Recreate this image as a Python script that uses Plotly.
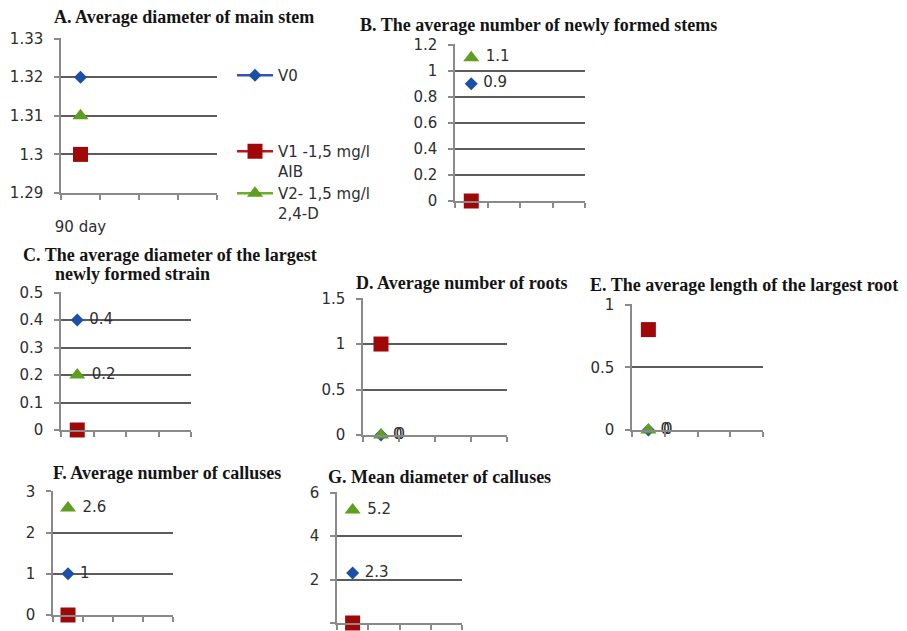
import plotly.graph_objects as go

W, H = 907, 631

series_names = ["V0", "V1 -1,5 mg/l<br>AIB", "V2- 1,5 mg/l<br>2,4-D"]
series_colors = ["#1c4fa8", "#a00808", "#5f9e1e"]
line_colors = ["#2f55b5", "#c0141e", "#6aae2a"]
symbols = ["diamond", "square", "triangle-up"]
marker_sizes = [10, 15, 14]
labeled = [True, False, True]

day_label = "90 day"

# values per panel: [V0, V1, V2]
vals_A = [1.32, 1.30, 1.31]
vals_B = [0.9, 0.0, 1.1]
vals_C = [0.4, 0.0, 0.2]
vals_D = [0.0, 1.0, 0.0]
vals_E = [0.0, 0.8, 0.0]
vals_F = [1.0, 0.0, 2.6]
vals_G = [2.3, 0.0, 5.2]

titles = [
    "A. Average diameter of main stem",
    "B. The average number of newly formed stems",
    "C. The average diameter of the largest",
    "D. Average number of roots",
    "E. The average length of the largest root",
    "F. Average number of calluses",
    "G. Mean diameter of calluses",
]
title_C2 = "newly formed strain"

# panel geometry in pixels: (left, right, top, bottom), y range, dtick, show labels
panels = [
    dict(v=vals_A, box=(61, 217, 38, 193), yr=(1.29, 1.33), dt=0.01, lab=False, title=(184, 17)),
    dict(v=vals_B, box=(455, 585, 44, 201), yr=(0, 1.2), dt=0.2, lab=True, title=(538, 25)),
    dict(v=vals_C, box=(61, 191, 292, 430), yr=(0, 0.5), dt=0.1, lab=True, title=(170, 255)),
    dict(v=vals_D, box=(363, 507, 298, 435), yr=(0, 1.5), dt=0.5, lab=True, title=(461, 283)),
    dict(v=vals_E, box=(632, 763, 304, 430), yr=(0, 1), dt=0.5, lab=True, title=(744, 285)),
    dict(v=vals_F, box=(53, 173, 491, 615), yr=(0, 3), dt=1, lab=True, title=(167, 473)),
    dict(v=vals_G, box=(337, 462, 492, 623), yr=(0, 6), dt=2, lab=True, title=(439, 477)),
]

fig = go.Figure()
SANS = "DejaVu Sans, Verdana, sans-serif"
TICKFONT = dict(family=SANS, size=15, color="#2e2e2e")
GRID = "#5c5c5c"
AXL = "#8a8a8a"
TITLEFONT = dict(family="Liberation Serif, Times New Roman, serif", size=18, color="#141414")

annotations = []
for i, p in enumerate(panels):
    n = "" if i == 0 else str(i + 1)
    xa, ya = "x" + n, "y" + n
    l, r, t, b = p["box"]
    for s in range(3):
        txt = None
        if p["lab"] and labeled[s]:
            txt = ["\u00a0" + ("%g" % p["v"][s])]
        fig.add_trace(go.Scatter(
            x=[1], y=[p["v"][s]], xaxis=xa, yaxis=ya,
            mode=("lines+markers" if i == 0 else ("markers+text" if txt else "markers")),
            text=txt, textposition="middle right",
            textfont=dict(family=SANS, size=15, color="#2e2e2e"),
            marker=dict(symbol=symbols[s], size=marker_sizes[s], color=series_colors[s]),
            line=dict(color=line_colors[s], width=2.5),
            name=series_names[s], showlegend=(i == 0), cliponaxis=False,
            legend=("legend" if s == 0 else "legend2"),
            hoverinfo="skip",
        ))
    xkey = "xaxis" + n
    ykey = "yaxis" + n
    lo, hi = p["yr"]
    eps = (hi - lo) * 0.004
    fig.layout[xkey] = dict(
        domain=[l / W, r / W], anchor=ya, range=[0.5, 4.5],
        tickvals=[1], ticktext=[day_label if i == 0 else ""],
        showticklabels=(i == 0), ticks="", showgrid=False, zeroline=False,
        showline=True, linecolor=AXL, linewidth=1.5, automargin=False,
        minor=dict(tickvals=[0.5, 1.5, 2.5, 3.5, 4.5], ticks="outside", ticklen=5,
                   tickcolor=AXL, tickwidth=1.5, showgrid=False),
        tickfont=TICKFONT, ticklabelstandoff=19,
    )
    fig.layout[ykey] = dict(
        domain=[1 - b / H, 1 - t / H], anchor=xa, range=[lo, hi + eps], dtick=p["dt"],
        tick0=lo, showgrid=True, gridcolor=GRID, gridwidth=1.5, zeroline=False,
        showline=True, linecolor=AXL, linewidth=1.5, ticks="outside", ticklen=5,
        tickcolor=AXL, tickwidth=1.5, tickfont=TICKFONT, automargin=False,
        ticklabelstandoff=8,
    )
    cx, cy = p["title"]
    annotations.append(dict(text="<b>" + titles[i] + "</b>", x=cx / W, y=1 - cy / H,
                            xref="paper", yref="paper", showarrow=False,
                            xanchor="center", yanchor="middle", font=TITLEFONT))

annotations.append(dict(text="<b>" + title_C2 + "</b>", x=132 / W, y=1 - 274 / H,
                        xref="paper", yref="paper", showarrow=False,
                        xanchor="center", yanchor="middle", font=TITLEFONT))

LEGFONT = dict(family=SANS, size=15, color="#2e2e2e")
fig.update_layout(
    width=W, height=H, margin=dict(l=0, r=0, t=0, b=0, autoexpand=False),
    paper_bgcolor="white", plot_bgcolor="white",
    annotations=annotations,
    legend=dict(x=232 / W, y=1 - 59 / H, xanchor="left", yanchor="top",
                font=LEGFONT, bgcolor="rgba(0,0,0,0)", valign="top", itemwidth=36),
    legend2=dict(x=232 / W, y=1 - 135 / H, xanchor="left", yanchor="top",
                 font=LEGFONT, bgcolor="rgba(0,0,0,0)", valign="top", itemwidth=36,
                 tracegroupgap=0),
)

fig.write_html("out.html", config={"displayModeBar": False},
               post_script="document.body.style.margin='0px';document.body.style.padding='0px';")
